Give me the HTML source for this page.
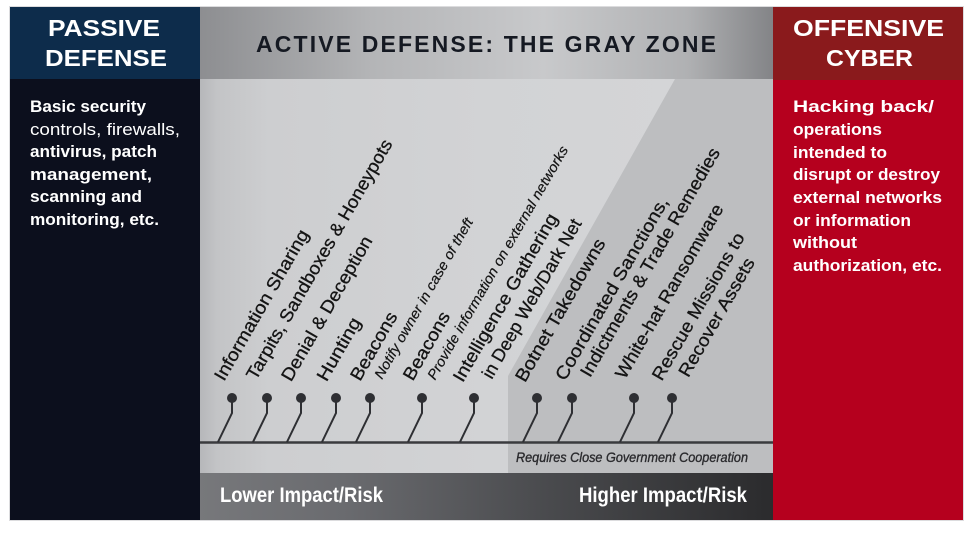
<!DOCTYPE html>
<html><head><meta charset="utf-8"><style>
html,body{margin:0;padding:0;background:#fff;}
svg{display:block;}
</style></head><body>
<svg width="976" height="533" viewBox="0 0 976 533" xmlns="http://www.w3.org/2000/svg">
<defs>
<linearGradient id="hdr" x1="200" y1="0" x2="773" y2="0" gradientUnits="userSpaceOnUse">
<stop offset="0" stop-color="#8d8e91"/><stop offset="0.3" stop-color="#b4b5b7"/><stop offset="0.6" stop-color="#c8c9cb"/><stop offset="0.85" stop-color="#b0b1b3"/><stop offset="1" stop-color="#838487"/>
</linearGradient>
<linearGradient id="body" x1="200" y1="0" x2="773" y2="0" gradientUnits="userSpaceOnUse">
<stop offset="0" stop-color="#b6b7ba"/><stop offset="0.03" stop-color="#c3c4c6"/><stop offset="0.12" stop-color="#cdced0"/><stop offset="0.5" stop-color="#d2d3d5"/><stop offset="1" stop-color="#d5d6d8"/>
</linearGradient>
<linearGradient id="bar" x1="200" y1="0" x2="773" y2="0" gradientUnits="userSpaceOnUse">
<stop offset="0" stop-color="#77787b"/><stop offset="0.25" stop-color="#6a6b6f"/><stop offset="0.6" stop-color="#4a4b4e"/><stop offset="1" stop-color="#2b2b2d"/>
</linearGradient>
</defs>
<rect x="9.5" y="6.5" width="954" height="514" fill="none" stroke="#dcdcde" stroke-width="1"/>
<!-- left -->
<rect x="10" y="7" width="190" height="72" fill="#0d2c4b"/>
<rect x="10" y="79" width="190" height="441" fill="#0c0f1d"/>
<!-- center -->
<rect x="200" y="7" width="573" height="72" fill="url(#hdr)"/>
<rect x="200" y="79" width="573" height="394" fill="url(#body)"/>
<polygon points="675,79 773,79 773,473 508,473 508,376" fill="#bdbec0"/>
<rect x="200" y="473" width="573" height="47" fill="url(#bar)"/>
<!-- right -->
<rect x="773" y="7" width="190" height="73" fill="#8a1a1c"/>
<rect x="773" y="80" width="190" height="440" fill="#b5001e"/>

<!-- headers -->
<g font-family="'Liberation Sans', Arial, sans-serif" font-weight="bold" font-size="23">
<text x="48" y="36" fill="#ffffff" textLength="112" lengthAdjust="spacingAndGlyphs">PASSIVE</text>
<text x="45" y="66" fill="#ffffff" textLength="122" lengthAdjust="spacingAndGlyphs">DEFENSE</text>
<text x="256" y="52" fill="#151922" textLength="460" lengthAdjust="spacing">ACTIVE DEFENSE: THE GRAY ZONE</text>
<text x="793" y="36" fill="#ffffff" textLength="151" lengthAdjust="spacingAndGlyphs">OFFENSIVE</text>
<text x="826" y="66" fill="#ffffff" textLength="87" lengthAdjust="spacingAndGlyphs">CYBER</text>
</g>

<!-- left body text -->
<g font-family="'Liberation Sans', Arial, sans-serif" font-size="17" fill="#ffffff">
<text x="30" y="112" font-weight="bold" textLength="116" lengthAdjust="spacingAndGlyphs">Basic security</text>
<text x="30" y="135" textLength="150" lengthAdjust="spacingAndGlyphs">controls, firewalls,</text>
<text x="30" y="157" font-weight="bold" textLength="127" lengthAdjust="spacingAndGlyphs">antivirus, patch</text>
<text x="30" y="180" font-weight="bold" textLength="122" lengthAdjust="spacingAndGlyphs">management,</text>
<text x="30" y="202" font-weight="bold" textLength="112" lengthAdjust="spacingAndGlyphs">scanning and</text>
<text x="30" y="225" font-weight="bold" textLength="129" lengthAdjust="spacingAndGlyphs">monitoring, etc.</text>
</g>

<!-- right body text -->
<g font-family="'Liberation Sans', Arial, sans-serif" font-size="17" font-weight="bold" fill="#ffffff">
<text x="793" y="112" textLength="141" lengthAdjust="spacingAndGlyphs">Hacking back/</text>
<text x="793" y="135" textLength="89" lengthAdjust="spacingAndGlyphs">operations</text>
<text x="793" y="158" textLength="94" lengthAdjust="spacingAndGlyphs">intended to</text>
<text x="793" y="180" textLength="147" lengthAdjust="spacingAndGlyphs">disrupt or destroy</text>
<text x="793" y="203" textLength="149" lengthAdjust="spacingAndGlyphs">external networks</text>
<text x="793" y="226" textLength="118" lengthAdjust="spacingAndGlyphs">or information</text>
<text x="793" y="248" textLength="64" lengthAdjust="spacingAndGlyphs">without</text>
<text x="793" y="271" textLength="149" lengthAdjust="spacingAndGlyphs">authorization, etc.</text>
</g>

<!-- baseline -->
<line x1="200" y1="442.5" x2="773" y2="442.5" stroke="#3a3b3e" stroke-width="2.5"/>

<!-- pins -->
<g stroke="#2e2f33" stroke-width="2" fill="none">
<path d="M232 398V413L218 442"/>
<path d="M267 398V413L253 442"/>
<path d="M301 398V413L287 442"/>
<path d="M336 398V413L322 442"/>
<path d="M370 398V413L356 442"/>
<path d="M422 398V413L408 442"/>
<path d="M474 398V413L460 442"/>
<path d="M537 398V413L523 442"/>
<path d="M572 398V413L558 442"/>
<path d="M634 398V413L620 442"/>
<path d="M672 398V413L658 442"/>
</g>
<g fill="#2e2f33">
<circle cx="232" cy="398" r="5"/><circle cx="267" cy="398" r="5"/><circle cx="301" cy="398" r="5"/>
<circle cx="336" cy="398" r="5"/><circle cx="370" cy="398" r="5"/><circle cx="422" cy="398" r="5"/>
<circle cx="474" cy="398" r="5"/><circle cx="537" cy="398" r="5"/><circle cx="572" cy="398" r="5"/>
<circle cx="634" cy="398" r="5"/><circle cx="672" cy="398" r="5"/>
</g>

<!-- rotated labels -->
<g font-family="'Liberation Sans', Arial, sans-serif" font-size="18" fill="#141414" stroke="#141414" stroke-width="0.3">
<text transform="translate(224,382) rotate(-60)" textLength="171" lengthAdjust="spacingAndGlyphs">Information Sharing</text>
<text transform="translate(256,381) rotate(-60)" textLength="274" lengthAdjust="spacingAndGlyphs">Tarpits, Sandboxes &amp; Honeypots</text>
<text transform="translate(291,382.5) rotate(-60)" textLength="164" lengthAdjust="spacingAndGlyphs">Denial &amp; Deception</text>
<text transform="translate(326.5,382.5) rotate(-60)" textLength="70" lengthAdjust="spacingAndGlyphs">Hunting</text>
<text transform="translate(360,382) rotate(-60)" textLength="76" lengthAdjust="spacingAndGlyphs">Beacons</text>
<text transform="translate(412.7,381.7) rotate(-60)" textLength="76" lengthAdjust="spacingAndGlyphs">Beacons</text>
<text transform="translate(462.7,383.3) rotate(-60)" textLength="191" lengthAdjust="spacingAndGlyphs">Intelligence Gathering</text>
<text transform="translate(491.7,380) rotate(-60)" textLength="181" lengthAdjust="spacingAndGlyphs">in Deep Web/Dark Net</text>
<text transform="translate(525,383.3) rotate(-60)" textLength="162" lengthAdjust="spacingAndGlyphs">Botnet Takedowns</text>
<text transform="translate(565,381.7) rotate(-60)" textLength="208" lengthAdjust="spacingAndGlyphs">Coordinated Sanctions,</text>
<text transform="translate(590,378.3) rotate(-60)" textLength="261" lengthAdjust="spacingAndGlyphs">Indictments &amp; Trade Remedies</text>
<text transform="translate(625,380) rotate(-60)" textLength="198" lengthAdjust="spacingAndGlyphs">White-hat Ransomware</text>
<text transform="translate(661.7,381.7) rotate(-60)" textLength="167" lengthAdjust="spacingAndGlyphs">Rescue Missions to</text>
<text transform="translate(688.3,378.3) rotate(-60)" textLength="134" lengthAdjust="spacingAndGlyphs">Recover Assets</text>
</g>
<g font-family="'Liberation Sans', Arial, sans-serif" font-size="14" font-style="italic" fill="#141414" stroke="#141414" stroke-width="0.2">
<text transform="translate(382,380) rotate(-60)" textLength="183" lengthAdjust="spacingAndGlyphs">Notify owner in case of theft</text>
<text transform="translate(435,380.7) rotate(-60)" textLength="267" lengthAdjust="spacingAndGlyphs">Provide information on external networks</text>
</g>

<!-- requires -->
<text x="516" y="462" font-family="'Liberation Sans', Arial, sans-serif" font-size="14" font-style="italic" fill="#2a2a2d" stroke="#2a2a2d" stroke-width="0.35" textLength="232" lengthAdjust="spacingAndGlyphs">Requires Close Government Cooperation</text>

<!-- bottom bar text -->
<g font-family="'Liberation Sans', Arial, sans-serif" font-size="21" font-weight="bold" fill="#ffffff">
<text x="220" y="502" textLength="163" lengthAdjust="spacingAndGlyphs">Lower Impact/Risk</text>
<text x="579" y="502" textLength="168" lengthAdjust="spacingAndGlyphs">Higher Impact/Risk</text>
</g>
</svg>
</body></html>
